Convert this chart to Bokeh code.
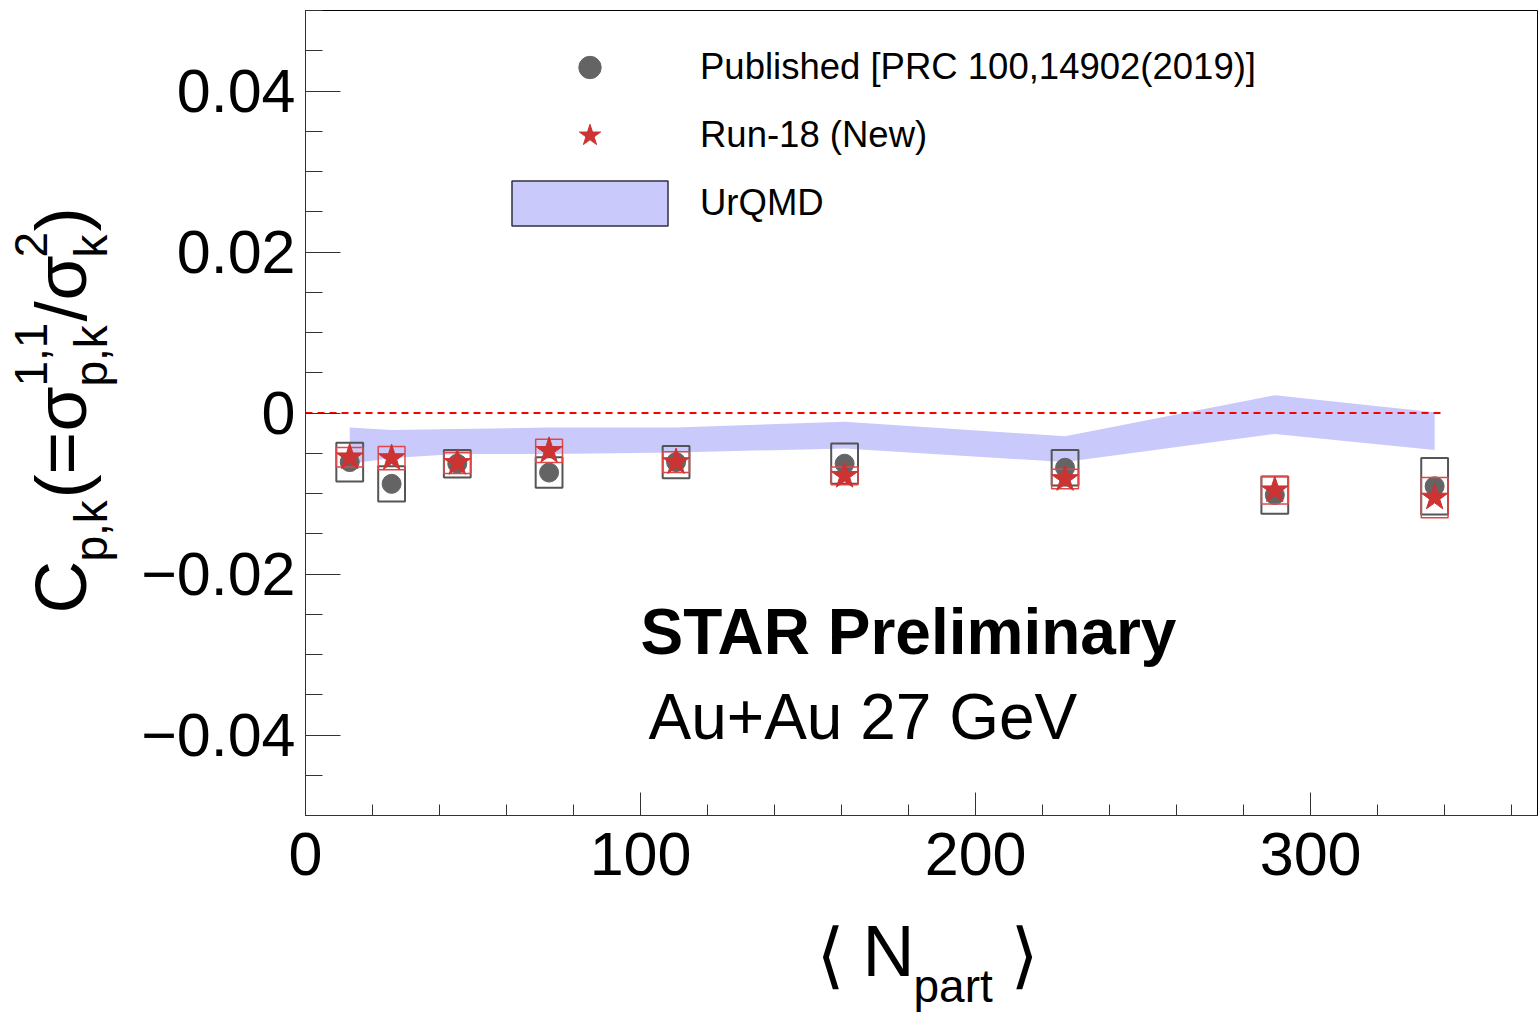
import math
from bokeh.plotting import figure
from bokeh.layouts import row, column
from bokeh.models import (ColumnDataSource, FixedTicker, Label, Legend, LegendItem,
                          CustomJSTickFormatter, Range1d)
from bokeh.embed import file_html
from bokeh.resources import INLINE

# ---------------- data ----------------
npart = [13.2, 25.7, 45.3, 72.7, 110.6, 160.9, 226.7, 289.3, 337.0]
pub_val = [-0.0061, -0.0088, -0.0063, -0.0074, -0.0061, -0.0063, -0.0068, -0.0102, -0.0091]
pub_sys = [0.0024, 0.0022, 0.0017, 0.0019, 0.0020, 0.0025, 0.0022, 0.0023, 0.0035]
run18_val = [-0.0055, -0.0056, -0.0062, -0.0047, -0.0061, -0.0078, -0.0082, -0.0096, -0.0105]
run18_sys = [0.0012, 0.00145, 0.0013, 0.00145, 0.0013, 0.0011, 0.0012, 0.0017, 0.0025]
urqmd_upper = [-0.0018, -0.0021, -0.0020, -0.0018, -0.0018, -0.0011, -0.0029, 0.0022, 0.0001]
urqmd_lower = [-0.0063, -0.0056, -0.0051, -0.0051, -0.0049, -0.0044, -0.0061, -0.0026, -0.0046]
box_halfwidth = 4.0
zero_line_x = [0, 340]
zero_line_y = [0, 0]

x_ticks = [0, 100, 200, 300]
x_minor = [20 * i for i in range(19)]
y_ticks = [-0.04, -0.02, 0, 0.02, 0.04]
y_minor = [round(-0.05 + 0.005 * i, 4) for i in range(21)]

X_END = 368.0
FONT = "Liberation Sans"

pub_src = ColumnDataSource(dict(
    x=npart, y=pub_val,
    left=[v - box_halfwidth for v in npart], right=[v + box_halfwidth for v in npart],
    top=[v + s for v, s in zip(pub_val, pub_sys)], bottom=[v - s for v, s in zip(pub_val, pub_sys)]))
run_src = ColumnDataSource(dict(
    x=npart, y=run18_val,
    left=[v - box_halfwidth for v in npart], right=[v + box_halfwidth for v in npart],
    top=[v + s for v, s in zip(run18_val, run18_sys)], bottom=[v - s for v, s in zip(run18_val, run18_sys)]))
band_src = ColumnDataSource(dict(x=npart, y1=urqmd_lower, y2=urqmd_upper))
# outline-only glyph used for the legend swatch of the band (hidden in the plot)
band_edge_src = ColumnDataSource(dict(left=npart[:1], right=npart[:1],
                                      top=urqmd_upper[:1], bottom=urqmd_lower[:1]))

# ---------------- main figure ----------------
p = figure(width=1408, height=900, x_range=(0, X_END), y_range=(-0.05, 0.05),
           output_backend="svg", toolbar_location=None,
           min_border_left=175, min_border_right=0, min_border_top=10, min_border_bottom=85)
p.background_fill_color = "white"
p.border_fill_color = "white"
p.xgrid.visible = False
p.ygrid.visible = False
p.outline_line_color = "black"
p.outline_line_width = 1

p.xaxis.ticker = FixedTicker(ticks=x_ticks, minor_ticks=x_minor)
p.yaxis.ticker = FixedTicker(ticks=y_ticks, minor_ticks=y_minor)
p.yaxis.formatter = CustomJSTickFormatter(code="""
if (tick == 0) return '0';
const s = Math.abs(tick).toFixed(2);
return tick < 0 ? '\u2212' + s : s;
""")
for ax in (p.xaxis[0], p.yaxis[0]):
    ax.axis_line_color = "#333333"
    ax.major_tick_line_color = "#333333"
    ax.minor_tick_line_color = "#333333"
    ax.major_tick_out = 0
    ax.minor_tick_out = 0
    ax.major_label_text_font = FONT
    ax.major_label_text_font_size = "61px"
    ax.major_label_text_color = "black"
p.yaxis.major_tick_in = 35
p.yaxis.minor_tick_in = 17
p.yaxis.major_label_standoff = 10
p.xaxis.major_tick_in = 23
p.xaxis.minor_tick_in = 11
p.xaxis.major_label_standoff = 17

band_r = p.varea(x="x", y1="y1", y2="y2", source=band_src, fill_color="#c9c9fb")
p.line(x=zero_line_x, y=zero_line_y, line_color="#ff0000", line_width=2, line_dash="7 5")
p.quad(left="left", right="right", top="top", bottom="bottom", source=pub_src,
       fill_alpha=0, line_color="#555555", line_width=2)
pub_r = p.scatter(x="x", y="y", source=pub_src, marker="circle", size=19,
                  fill_color="#646464", line_color="#646464")
p.quad(left="left", right="right", top="top", bottom="bottom", source=run_src,
       fill_alpha=0, line_color="#e04848", line_width=1.5)
run_r = p.scatter(x="x", y="y", source=run_src, marker="star", size=28,
                  fill_color="#cc3333", line_color="#cc3333")
outline_r = p.quad(left="left", right="right", top="top", bottom="bottom",
                   source=band_edge_src, fill_alpha=0, line_color="#303040",
                   line_width=1.5, visible=False)

legend = Legend(items=[
    LegendItem(label="Published [PRC 100,14902(2019)]", renderers=[pub_r]),
    LegendItem(label="Run-18 (New)", renderers=[run_r]),
    LegendItem(label="UrQMD", renderers=[band_r, outline_r]),
], location=(187, 584), orientation="vertical",
    glyph_width=195, glyph_height=56, spacing=12, label_standoff=13,
    padding=0, margin=0, border_line_alpha=0, background_fill_alpha=0,
    inactive_fill_alpha=0,
    label_text_font=FONT, label_text_font_size="36.5px", label_text_color="black")
p.add_layout(legend)

SX = 1233.0 / X_END
SY = 805.0 / 0.1
OFF = 0.36  # empirical baseline correction (fraction of font size)


def X(px):
    return (px - 305.0) / SX


def Y(py):
    return (412.5 - py) / SY


def lab_main(px, py, text, size, style="normal"):
    p.add_layout(Label(x=X(px), y=Y(py - OFF * size), text=text, text_font=FONT,
                       text_font_size=f"{size}px", text_font_style=style,
                       text_align="left", text_baseline="alphabetic", text_color="black"))


lab_main(640, 655, "STAR Preliminary", 64, style="bold")
lab_main(648, 740, "Au+Au 27 GeV", 64)


def blank_fig(w, h, xr, yr, top=0, bottom=0):
    f = figure(width=w, height=h, x_range=xr, y_range=yr, output_backend="svg",
               toolbar_location=None, x_axis_type=None, y_axis_type=None,
               min_border=0, min_border_left=0, min_border_right=0,
               min_border_top=top, min_border_bottom=bottom)
    f.outline_line_color = None
    f.background_fill_color = "white"
    f.border_fill_color = "white"
    f.xgrid.visible = False
    f.ygrid.visible = False
    return f


def lab(f, px, py, text, size, font=FONT, rotate=False):
    if rotate:
        x, y, ang = px - OFF * size, py, math.pi / 2
    else:
        x, y, ang = px, py - OFF * size, 0.0
    f.add_layout(Label(x=x, y=y, text=text, text_font=font, text_font_size=f"{size}px",
                       angle=ang, text_align="left", text_baseline="alphabetic",
                       text_color="black"))


# ---------------- y-axis title panel (page px 0..130; frame aligned to 10..815) ----------------
yt = blank_fig(130, 900, Range1d(0, 130), Range1d(815, 10), top=10, bottom=85)
base, sub, sup = 86, 107, 47
lab(yt, base, 613, "C", 73, rotate=True)
lab(yt, sub, 561, "p,k", 46, rotate=True)
lab(yt, base, 498, "(", 73, rotate=True)
lab(yt, base, 474, "=", 73, rotate=True)
lab(yt, base, 431, "\u03c3", 73, rotate=True)
lab(yt, sup, 386, "1,1", 46, rotate=True)
lab(yt, sub, 386, "p,k", 46, rotate=True)
lab(yt, base, 321, "/", 73, rotate=True)
lab(yt, base, 300, "\u03c3", 73, rotate=True)
lab(yt, sup, 257, "2", 46, rotate=True)
lab(yt, sub, 257, "k", 46, rotate=True)
lab(yt, base, 231, ")", 73, rotate=True)

# ---------------- x-axis title panel (page px 0..1538, 900..1015) ----------------
xt = blank_fig(1538, 115, Range1d(0, 1538), Range1d(1015, 900))
lab(xt, 816, 980, "\u27e8", 72, font="DejaVu Sans")
lab(xt, 862, 976, "N", 72)
lab(xt, 913, 1002, "part", 46)
lab(xt, 1010, 980, "\u27e9", 72, font="DejaVu Sans")

layout = column(row(yt, p, spacing=0), xt, spacing=0)
open("out.html", "w").write(file_html(layout, INLINE))
